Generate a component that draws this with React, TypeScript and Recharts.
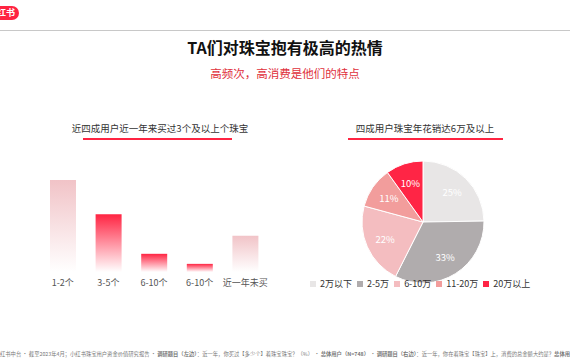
import { BarChart, Bar, XAxis, YAxis, Cell, PieChart, Pie } from 'recharts'

/* ---------- data ---------- */

const countCats = ['1-2个', '3-5个', '6-10个', '6-10个', '近一年未买']
const countShare = [43, 27, 8.5, 3.8, 17]

const spendCats = ['2万以下', '2-5万', '6-10万', '11-20万', '20万以上']
const spendShare = [25, 33, 22, 11, 10]

/* ---------- styles ---------- */

const FONT = '"Noto Sans CJK SC", "Noto Sans", sans-serif'
const RED = '#ff2442'
const pieColors = ['#e8e6e6', '#b0acad', '#f4bdc0', '#f29d9c', '#ff2545']
const barGrad = ['gPale', 'gRed', 'gRed', 'gRed', 'gPale']

const barData = countCats.map((name, i) => ({ name, value: countShare[i] }))
const pieData = spendCats.map((name, i) => ({ name, value: spendShare[i] }))

const RAD = Math.PI / 180

// eslint-disable-next-line @typescript-eslint/no-explicit-any
function pieLabel(props: any) {
  const { cx, cy, midAngle, outerRadius, value } = props
  const r = outerRadius * 0.68
  const x = cx + r * Math.cos(-midAngle * RAD)
  const y = cy + r * Math.sin(-midAngle * RAD)
  return (
    <text x={x} y={y} fill="#fff" fontSize={9.5} textAnchor="middle" dominantBaseline="central" fontFamily={FONT}>
      {`${value}%`}
    </text>
  )
}

function SubTitle({ text, left, top, width, lineLeft, lineWidth }: {
  text: string; left: number; top: number; width: number; lineLeft: number; lineWidth: number
}) {
  return (
    <>
      <div style={{ position: 'absolute', left, top, width, textAlign: 'center', fontSize: 9.5, color: '#333', lineHeight: '12px' }}>
        {text}
      </div>
      <div style={{ position: 'absolute', left: lineLeft, top: top + 16, width: lineWidth, height: 2, background: RED }} />
    </>
  )
}

export default function App() {
  return (
    <div style={{ position: 'relative', width: 570, height: 360, background: '#fff', overflow: 'hidden', fontFamily: FONT }}>
      <style>{'body{margin:0}'}</style>

      {/* logo + header rule */}
      <div style={{ position: 'absolute', left: -12, top: 6, width: 31, height: 14, borderRadius: 7, background: RED,
        color: '#fff', fontSize: 9, fontWeight: 700, lineHeight: '14px', textAlign: 'right', paddingRight: 4, boxSizing: 'border-box' }}>
        红书
      </div>
      <div style={{ position: 'absolute', left: 0, top: 30, width: 570, height: 1, background: '#c8c8c8' }} />

      <div style={{ position: 'absolute', left: 0, top: 36, width: 570, textAlign: 'center', fontSize: 16, fontWeight: 700, color: '#111', lineHeight: '22px' }}>
        TA们对珠宝抱有极高的热情
      </div>
      <div style={{ position: 'absolute', left: 0, top: 65, width: 570, textAlign: 'center', fontSize: 11.5, color: '#e0303c', lineHeight: '16px' }}>
        高频次，高消费是他们的特点
      </div>

      <SubTitle text="近四成用户近一年来买过3个及以上个珠宝" left={40} top={122} width={240} lineLeft={83} lineWidth={149} />
      <SubTitle text="四成用户珠宝年花销达6万及以上" left={325} top={122} width={200} lineLeft={348} lineWidth={155} />

      {/* left: bar chart */}
      <div style={{ position: 'absolute', left: 40, top: 170 }}>
        <BarChart width={228} height={130} data={barData} margin={{ top: 10, right: 0, bottom: 0, left: 0 }}>
          <defs>
            <linearGradient id="gPale" x1="0" y1="0" x2="0" y2="1">
              <stop offset="0%" stopColor="#f1c3c7" />
              <stop offset="100%" stopColor="#ffffff" />
            </linearGradient>
            <linearGradient id="gRed" x1="0" y1="0" x2="0" y2="1">
              <stop offset="0%" stopColor="#ff2442" />
              <stop offset="100%" stopColor="#ffffff" />
            </linearGradient>
          </defs>
          <XAxis dataKey="name" height={28} tickLine={false} axisLine={false} interval={0}
            tick={{ fontSize: 9, fill: '#555', fontFamily: FONT }} />
          <YAxis hide domain={[0, 'dataMax']} />
          <Bar dataKey="value" barSize={26} isAnimationActive={false}>
            {barData.map((d, i) => <Cell key={i} fill={`url(#${barGrad[i]})`} />)}
          </Bar>
        </BarChart>
      </div>

      {/* right: pie chart */}
      <div style={{ position: 'absolute', left: 300, top: 140 }}>
        <PieChart width={250} height={160}>
          <Pie data={pieData} dataKey="value" cx={118} cy={77} outerRadius={61} startAngle={90} endAngle={-270}
            stroke="#fff" strokeWidth={1} label={pieLabel} labelLine={false} isAnimationActive={false}>
            {pieData.map((d, i) => <Cell key={i} fill={pieColors[i]} />)}
          </Pie>
        </PieChart>
      </div>

      {/* pie legend */}
      <div style={{ position: 'absolute', left: 310, top: 278, display: 'flex', gap: 5, fontSize: 9, color: '#333', lineHeight: '12px' }}>
        {spendCats.map((c, i) => (
          <div key={c} style={{ display: 'flex', alignItems: 'center', gap: 4 }}>
            <span style={{ width: 6, height: 6, background: pieColors[i], display: 'inline-block' }} />
            {c}
          </div>
        ))}
      </div>

      {/* footnote */}
      <div style={{ position: 'absolute', left: 0, top: 351, width: 700, whiteSpace: 'nowrap', fontSize: 5.3, color: '#777', lineHeight: '7px' }}>
        红书中台 · 截至2023年4月；小红书珠宝用户资金价值研究报告 · <b>调研题目（左边）</b>：近一年，你买过【多少个】着珠宝珠宝？（%） · <b>总体用户（N=748）</b> · <b>调研题目（右边）</b>：近一年，你在着珠宝【珠宝】上，消费的总金额大约是？<b>总体用户</b>
      </div>
    </div>
  )
}
